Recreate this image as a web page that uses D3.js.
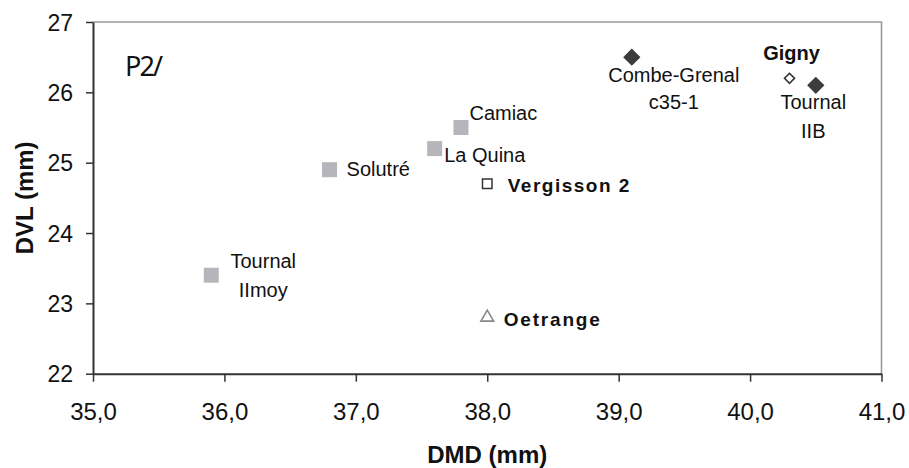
<!DOCTYPE html>
<html>
<head>
<meta charset="utf-8">
<script src="https://cdn.jsdelivr.net/npm/d3@7"></script>
<style>
  html, body { margin: 0; padding: 0; background: #fff; }
  svg { display: block; }
  text { font-family: "Liberation Sans", Arial, sans-serif; fill: #111; }
</style>
</head>
<body>
<svg id="chart" width="909" height="468"></svg>
<script>
// Sites, their DMD / DVL measurements (mm) and group
const sites  = ["Tournal IImoy", "Solutré", "La Quina", "Camiac", "Vergisson 2", "Oetrange", "Combe-Grenal c35-1", "Gigny", "Tournal IIB"];
const dmd    = [35.9, 36.8, 37.6, 37.8, 38.0, 38.0, 39.1, 40.3, 40.5];
const dvl    = [23.4, 24.9, 25.2, 25.5, 24.7, 22.8, 26.5, 26.2, 26.1];
const groups = ["grey", "grey", "grey", "grey", "openSquare", "openTriangle", "darkDiamond", "openDiamond", "darkDiamond"];
const labelLines = [["Tournal", "IImoy"], ["Solutré"], ["La Quina"], ["Camiac"], ["Vergisson 2"], ["Oetrange"], ["Combe-Grenal", "c35-1"], ["Gigny"], ["Tournal", "IIB"]];
const boldLabel = [false, false, false, false, true, true, false, true, false];

const xTicks = [35, 36, 37, 38, 39, 40, 41];
const yTicks = [22, 23, 24, 25, 26, 27];

const svg = d3.select("#chart");
const plot = { left: 93, right: 881.5, top: 22, bottom: 373.7 };

const x = d3.scaleLinear().domain([35, 41]).range([plot.left, plot.right]);
const y = d3.scaleLinear().domain([22, 27]).range([plot.bottom, plot.top]);

// Frame: light top/right edges
svg.append("path")
  .attr("d", `M${plot.left},${plot.top}H${plot.right}V${plot.bottom}`)
  .attr("fill", "none").attr("stroke", "#9a9a9a").attr("stroke-width", 1.6);

// Axes
const fmt = d3.format(".1f");
const xAxis = svg.append("g").attr("transform", `translate(0,${plot.bottom})`)
  .call(d3.axisBottom(x).tickValues(xTicks).tickSize(8).tickSizeOuter(0)
    .tickFormat(d => fmt(d).replace(".", ",")));
const yAxis = svg.append("g").attr("transform", `translate(${plot.left},0)`)
  .call(d3.axisLeft(y).tickValues(yTicks).tickSize(7).tickSizeOuter(0)
    .tickFormat(d3.format("d")));

[xAxis, yAxis].forEach(g => {
  g.select(".domain").attr("stroke", "#333").attr("stroke-width", 2);
  g.selectAll(".tick line").attr("stroke", "#333").attr("stroke-width", 1.5);
  g.selectAll(".tick text").attr("fill", "#111")
    .style("font-family", "'Liberation Sans', Arial, sans-serif");
});
xAxis.selectAll(".tick text").attr("font-size", 24).attr("dy", 0).attr("y", 46);
yAxis.selectAll(".tick text").attr("font-size", 23).attr("x", -20).attr("dy", "0.36em");

// Axis titles
svg.append("text").attr("x", (plot.left + plot.right) / 2).attr("y", 463)
  .attr("text-anchor", "middle").attr("font-size", 24).attr("font-weight", "bold")
  .text("DMD (mm)");
svg.append("text").attr("transform", `translate(33,${(plot.top + plot.bottom) / 2}) rotate(-90)`)
  .attr("text-anchor", "middle").attr("font-size", 24).attr("font-weight", "bold")
  .text("DVL (mm)");

// Panel tag
svg.append("text").attr("x", 125).attr("y", 76)
  .style("font-family", "'Noto Sans', 'Open Sans', sans-serif")
  .attr("font-size", 27).attr("fill", "#222").attr("textLength", 38)
  .text("P2/");

// Markers
const pts = sites.map((s, i) => ({ site: s, x: x(dmd[i]), y: y(dvl[i]), group: groups[i], lines: labelLines[i], bold: boldLabel[i] }));

// Diamonds are squares turned 45 degrees
const markerStyle = {
  grey:         { type: d3.symbolSquare,   size: 225, rot: 0,  fill: "#b5b5bb", stroke: "none", sw: 0 },
  openSquare:   { type: d3.symbolSquare,   size: 90,  rot: 0,  fill: "#fff",    stroke: "#333", sw: 1.5 },
  openTriangle: { type: d3.symbolTriangle, size: 70,  rot: 0,  fill: "#fff",    stroke: "#888", sw: 1.6 },
  darkDiamond:  { type: d3.symbolSquare,   size: 150, rot: 45, fill: "#3c3c3c", stroke: "none", sw: 0 },
  openDiamond:  { type: d3.symbolSquare,   size: 50,  rot: 45, fill: "#fff",    stroke: "#333", sw: 1.6 }
};

svg.append("g").selectAll("path").data(pts).join("path")
  .attr("transform", d => `translate(${d.x},${d.y}) rotate(${markerStyle[d.group].rot})`)
  .attr("d", d => d3.symbol().type(markerStyle[d.group].type).size(markerStyle[d.group].size)())
  .attr("fill", d => markerStyle[d.group].fill)
  .attr("stroke", d => markerStyle[d.group].stroke)
  .attr("stroke-width", d => markerStyle[d.group].sw);

// Label placement relative to each marker
const labelPlace = {
  "Tournal IImoy":      { dx: 52,  dy: [-7, 22],  anchor: "middle" },
  "Solutré":            { dx: 17,  dy: [6.5],     anchor: "start" },
  "La Quina":           { dx: 9.5, dy: [13],      anchor: "start" },
  "Camiac":             { dx: 8.5, dy: [-8],      anchor: "start" },
  "Vergisson 2":        { dx: 20.5, dy: [8],      anchor: "start", spacing: 1.5, size: 19 },
  "Oetrange":           { dx: 16.5, dy: [8.5],    anchor: "start", spacing: 1.8, size: 19 },
  "Combe-Grenal c35-1": { dx: 42,  dy: [25, 52],  anchor: "middle" },
  "Gigny":              { dx: 2,   dy: [-18],     anchor: "middle", size: 20 },
  "Tournal IIB":        { dx: -2.5, dy: [24, 53], anchor: "middle" }
};

pts.forEach(p => {
  const L = labelPlace[p.site];
  p.lines.forEach((line, j) => {
    svg.append("text")
      .attr("x", p.x + L.dx).attr("y", p.y + L.dy[j])
      .attr("text-anchor", L.anchor)
      .attr("font-size", L.size || 20)
      .attr("font-weight", p.bold ? "bold" : "normal")
      .style("letter-spacing", L.spacing ? L.spacing + "px" : null)
      .text(line);
  });
});
</script>
</body>
</html>
